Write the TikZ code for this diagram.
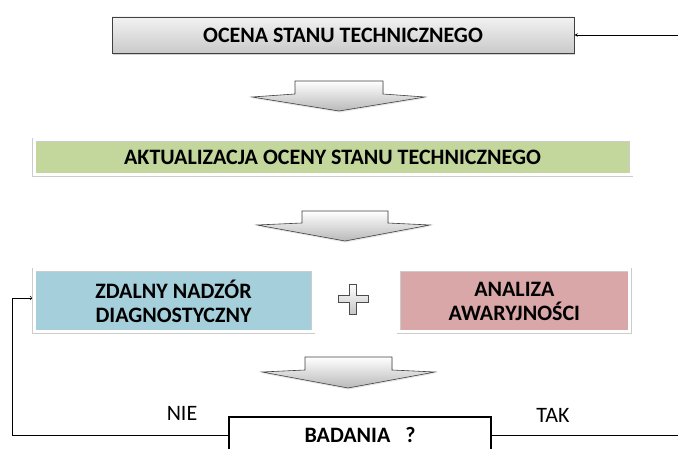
\documentclass[tikz,border=0pt]{standalone}
\usepackage{fontspec}
\setmainfont{Carlito}
\usetikzlibrary{shadows,positioning}

\definecolor{zielony}{RGB}{195,214,155}
\definecolor{niebieski}{RGB}{165,207,218}
\definecolor{rozowy}{RGB}{217,167,167}

\begin{document}
\begin{tikzpicture}[x=1pt,y=-1pt,>=stealth,semithick,
    box/.style={font=\bfseries\fontsize{22}{24}\selectfont, align=center, inner sep=0pt},
    flatbox/.style={box, draw=black!75, top color=gray!10, bottom color=gray!42,
        drop shadow={opacity=0.35, shadow xshift=1pt, shadow yshift=-2.5pt}},
    framebox/.style={box, draw=gray!40, double=white, double distance=3pt, line width=0.4pt,
        outer sep=1.9pt, drop shadow={opacity=0.3, shadow xshift=1pt, shadow yshift=-2.5pt}},
    bigarrow/.style={draw=black!75, semithick, top color=white, bottom color=gray!55,
        drop shadow={opacity=0.2, shadow xshift=0.5pt, shadow yshift=-1.5pt}},
    label/.style={font=\fontsize{22}{24}\selectfont}]

    \useasboundingbox (0,0) rectangle (678,449);

    \node(ocena) [flatbox, minimum width=462pt, minimum height=36pt] at (343,35) {OCENA STANU TECHNICZNEGO};
    \node(aktual) [framebox, fill=zielony, minimum width=597pt, minimum height=35pt] at (332.5,157.5) {AKTUALIZACJA OCENY STANU TECHNICZNEGO};
    \node(zdalny) [framebox, fill=niebieski, minimum width=279pt, minimum height=62pt] at (173.5,301) {ZDALNY NADZÓR\\DIAGNOSTYCZNY};
    \node(analiza) [framebox, fill=rozowy, minimum width=231pt, minimum height=62pt, right=82pt of zdalny] {ANALIZA\\AWARYJNOŚCI};
    \node(badania) [box, draw=black, line width=1.6pt, fill=white, minimum width=262pt, minimum height=36pt] at (360,435) {BADANIA~~~?};

    \node(nie) [label] at (182,413) {NIE};
    \node(tak) [label] at (553,415) {TAK};

    \coordinate (wejscie) at (678,35);
    \coordinate (lewy) at (12,435);
    \coordinate (prawy) at (678,435);

    % wide arrows between the levels
    \draw[bigarrow] (295,81) -- (383,81) -- (383,94) -- (425,97) -- (339,111) -- (252,97) -- (295,94) -- cycle;
    \draw[bigarrow] (302,211) -- (388,211) -- (388,223) -- (430,225) -- (345,241) -- (257,225) -- (302,223) -- cycle;
    \draw[bigarrow] (305,357) -- (392,357) -- (392,370) -- (435,372) -- (348,388) -- (262,372) -- (305,370) -- cycle;

    % plus sign
    \draw[draw=black!70, thin, top color=white, bottom color=gray!45] (349.5,284) -- (356.5,284) -- (356.5,295.5) -- (368,295.5) -- (368,302.5) -- (356.5,302.5) -- (356.5,314) -- (349.5,314) -- (349.5,302.5) -- (338,302.5) -- (338,295.5) -- (349.5,295.5) -- cycle;

    \draw[->] (wejscie) -- (ocena.east);
    \draw[-to] (badania.west) -- (lewy) |- ([yshift=3pt]zdalny.west);
    \draw (badania.east) -- (prawy);
\end{tikzpicture}
\end{document}
